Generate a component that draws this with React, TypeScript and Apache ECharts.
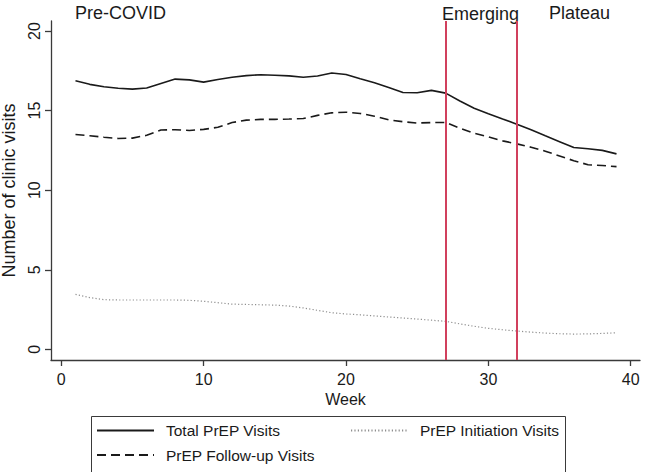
import React, { useEffect, useRef } from "react";
import * as echarts from "echarts";

const weeks = Array.from({ length: 39 }, (_, i) => i + 1);

const totalVisits = [
  16.87, 16.65, 16.5, 16.4, 16.35, 16.42, 16.7, 16.98, 16.93, 16.79,
  16.95, 17.1, 17.2, 17.25, 17.22, 17.18, 17.1, 17.17, 17.36, 17.27,
  17.0, 16.75, 16.45, 16.14, 16.12, 16.27, 16.1, 15.6, 15.15, 14.8,
  14.47, 14.15, 13.8, 13.42, 13.05, 12.68, 12.6, 12.5, 12.28,
];

const followUpVisits = [
  13.5, 13.42, 13.33, 13.25, 13.27, 13.45, 13.78, 13.8, 13.75, 13.82,
  13.95, 14.25, 14.4, 14.45, 14.45, 14.47, 14.5, 14.7, 14.86, 14.9,
  14.82, 14.65, 14.42, 14.3, 14.22, 14.25, 14.25, 13.9, 13.58, 13.35,
  13.1, 12.91, 12.7, 12.45, 12.15, 11.85, 11.6, 11.55, 11.48,
];

const initiationVisits = [
  3.45, 3.25, 3.12, 3.1, 3.1, 3.1, 3.1, 3.1, 3.08, 3.02,
  2.93, 2.84, 2.82, 2.8, 2.78, 2.72, 2.6, 2.45, 2.3, 2.22,
  2.17, 2.1, 2.03, 1.97, 1.9, 1.83, 1.76, 1.6, 1.45, 1.32,
  1.23, 1.15, 1.08, 1.02, 0.98, 0.96, 0.97, 1.0, 1.04,
];

const xTicks = [0, 10, 20, 30, 40];
const yTicks = [0, 5, 10, 15, 20];
const phaseBreaks = [27, 32];
const phaseLabels = ["Pre-COVID", "Emerging", "Plateau"];
const seriesNames = ["Total PrEP Visits", "PrEP Initiation Visits", "PrEP Follow-up Visits"];

const FONT = "'Liberation Sans', Arial, Helvetica, sans-serif";
const AXIS_COLOR = "#3a3a3a";
const TEXT_COLOR = "#1a1a1a";

export default function App() {
  const ref = useRef<HTMLDivElement>(null);

  useEffect(() => {
    if (!ref.current) return;
    const chart = echarts.init(ref.current, null, { renderer: "svg" });

    const pair = (vals: number[]) => weeks.map((w, i) => [w, vals[i]]);

    const legendBase = {
      orient: "horizontal" as const,
      padding: 0,
      itemWidth: 57,
      itemHeight: 14,
      selectedMode: false,
      itemStyle: { opacity: 0 },
      textStyle: {
        fontFamily: FONT,
        fontSize: 15.5,
        color: TEXT_COLOR,
        padding: [0, 0, 0, 7],
      },
    };

    chart.setOption({
      animation: false,
      backgroundColor: "#ffffff",
      textStyle: { fontFamily: FONT },
      grid: { left: 51, right: 5, top: 21, bottom: 112, containLabel: false, outerBoundsMode: "none" },
      xAxis: {
        type: "value",
        min: -0.72,
        max: 40.65,
        name: "Week",
        nameLocation: "middle",
        nameGap: 30,
        nameTextStyle: { fontFamily: FONT, fontSize: 16, color: TEXT_COLOR },
        axisLine: { show: true, onZero: false, lineStyle: { color: AXIS_COLOR, width: 1.3 } },
        axisTick: { show: true, length: 6, customValues: xTicks, lineStyle: { color: AXIS_COLOR, width: 1.3 } },
        axisLabel: { customValues: xTicks, fontSize: 16, color: TEXT_COLOR, margin: 11, fontFamily: FONT },
        splitLine: { show: false },
      },
      yAxis: {
        type: "value",
        min: -0.67,
        max: 20.63,
        name: "Number of clinic visits",
        nameLocation: "middle",
        nameRotate: 90,
        nameGap: 32,
        nameTextStyle: { fontFamily: FONT, fontSize: 18, color: TEXT_COLOR },
        axisLine: { show: true, onZero: false, lineStyle: { color: AXIS_COLOR, width: 1.3 } },
        axisTick: { show: true, length: 6, customValues: yTicks, lineStyle: { color: AXIS_COLOR, width: 1.3 } },
        axisLabel: { customValues: yTicks, rotate: 90, fontSize: 16, color: TEXT_COLOR, margin: 9, fontFamily: FONT },
        splitLine: { show: false },
      },
      legend: [
        { ...legendBase, data: [seriesNames[0]], left: 96, top: 422.5 },
        { ...legendBase, data: [seriesNames[1]], left: 350, top: 422.5 },
        { ...legendBase, data: [seriesNames[2]], left: 96, top: 447 },
      ],
      graphic: [
        {
          type: "rect",
          left: 89,
          top: 414,
          shape: { width: 474, height: 56 },
          style: { fill: "none", stroke: AXIS_COLOR, lineWidth: 1 },
          silent: true,
        },
        {
          type: "text",
          x: 75,
          y: 13,
          style: { text: phaseLabels[0], fontSize: 18, fontFamily: FONT, fill: TEXT_COLOR, verticalAlign: "middle" },
        },
        {
          type: "text",
          x: 442,
          y: 14,
          style: { text: phaseLabels[1], fontSize: 18, fontFamily: FONT, fill: TEXT_COLOR, verticalAlign: "middle" },
        },
        {
          type: "text",
          x: 549,
          y: 13,
          style: { text: phaseLabels[2], fontSize: 18, fontFamily: FONT, fill: TEXT_COLOR, verticalAlign: "middle" },
        },
      ],
      series: [
        {
          name: seriesNames[0],
          type: "line",
          data: pair(totalVisits),
          symbol: "none",
          showSymbol: false,
          lineStyle: { color: "#1a1a1a", width: 1.6, type: "solid" },
          itemStyle: { color: "#1a1a1a" },
          emphasis: { disabled: true },
          z: 3,
          markLine: {
            silent: true,
            symbol: ["none", "none"],
            label: { show: false },
            lineStyle: { color: "#d1405d", width: 2, type: "solid" },
            emphasis: { disabled: true },
            data: phaseBreaks.map((w) => ({ xAxis: w })),
          },
        },
        {
          name: seriesNames[1],
          type: "line",
          data: pair(initiationVisits),
          symbol: "none",
          showSymbol: false,
          lineStyle: { color: "#8f8f8f", width: 1.2, type: [1.2, 2.2] },
          itemStyle: { color: "#8f8f8f" },
          emphasis: { disabled: true },
          z: 2,
        },
        {
          name: seriesNames[2],
          type: "line",
          data: pair(followUpVisits),
          symbol: "none",
          showSymbol: false,
          lineStyle: { color: "#1a1a1a", width: 1.6, type: [9, 5] },
          itemStyle: { color: "#1a1a1a" },
          emphasis: { disabled: true },
          z: 2,
        },
      ],
    });

    return () => chart.dispose();
  }, []);

  return <div ref={ref} style={{ width: 645, height: 472, position: "absolute", left: 0, top: 0 }} />;
}
